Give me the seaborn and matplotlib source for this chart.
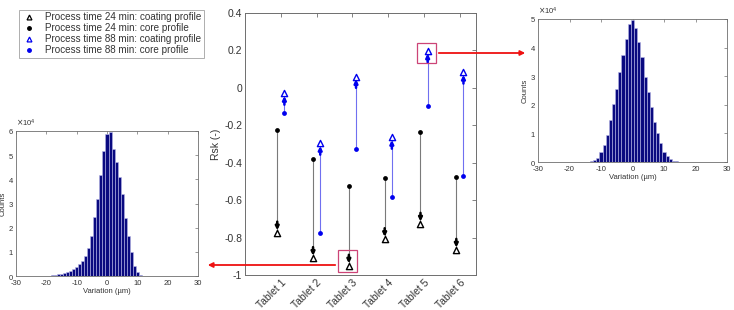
import numpy as np
import pandas as pd
import matplotlib
matplotlib.use("Agg")
import matplotlib.pyplot as plt
from matplotlib.lines import Line2D
from matplotlib.patches import Rectangle
from matplotlib.ticker import ScalarFormatter
import seaborn as sns

# ---------------- data ----------------
tablets = ["Tablet 1", "Tablet 2", "Tablet 3", "Tablet 4", "Tablet 5", "Tablet 6"]
core_24 = [-0.225, -0.38, -0.523, -0.484, -0.236, -0.478]
coat_24 = [-0.775, -0.911, -0.952, -0.81, -0.728, -0.867]
core_88 = [-0.136, -0.777, -0.329, -0.585, -0.097, -0.471]
coat_88 = [-0.03, -0.297, 0.06, -0.265, 0.197, 0.083]

# histogram of tablet 3 (24 min, coating) - bin centres (um) and counts
hist_left_x = list(range(-20, 12))
hist_left_counts = [100, 200, 300, 500, 700, 1000, 1300, 1700, 2200, 2800, 3600,
                    4800, 6200, 8300, 11400, 16600, 24400, 32000, 42000, 51600,
                    58600, 59500, 52700, 47000, 41000, 34000, 24100, 16700,
                    10000, 4000, 1500, 300]
# histogram of tablet 5 (88 min, coating)
hist_right_x = list(range(-13, 16))
hist_right_counts = [200, 700, 1500, 3400, 5900, 9400, 14700, 20200, 25500, 31300,
                     37400, 43000, 48100, 49800, 47000, 42000, 36800, 29800, 24600,
                     19300, 14100, 10000, 6500, 3600, 2000, 1000, 500, 200, 100]

# ---------------- style ----------------
sns.set_theme(style="white")
plt.rcParams["font.family"] = ["Liberation Sans", "DejaVu Sans"]
plt.rcParams["xtick.direction"] = "in"
plt.rcParams["ytick.direction"] = "in"
plt.rcParams["axes.unicode_minus"] = False

fig = plt.figure(figsize=(7.34, 3.10), dpi=100)
W, H = 734, 310


def ax_from_px(x0, y0, x1, y1):
    return fig.add_axes([x0 / W, 1 - y1 / H, (x1 - x0) / W, (y1 - y0) / H])


spine_col = "#6e6e6e"
txt_col = "#333333"

# ---------------- main axes ----------------
ax = ax_from_px(245, 13, 476, 275)
pos = np.arange(1, len(tablets) + 1)
off = 0.1

df24 = pd.DataFrame({"x": pos - off, "core": core_24, "coat": coat_24})
df88 = pd.DataFrame({"x": pos + off, "core": core_88, "coat": coat_88})

for df, lcol, acol in [(df24, "#7a7a7a", "black"), (df88, "#7070f0", "#0000ee")]:
    for _, r in df.iterrows():
        ax.plot([r.x, r.x], [r.core, r.coat], color=lcol, lw=0.8, zorder=1)
        d = np.sign(r.coat - r.core)
        ax.annotate("", xy=(r.x, r.coat - d * 0.014), xytext=(r.x, r.coat - d * 0.06),
                    arrowprops=dict(arrowstyle="-|>", color=acol, lw=1.8,
                                    mutation_scale=5, shrinkA=0, shrinkB=0),
                    zorder=3)

sns.scatterplot(data=df24, x="x", y="core", ax=ax, color="black", marker="o",
                s=12, edgecolor="black", linewidth=0, zorder=4, legend=False)
sns.scatterplot(data=df24, x="x", y="coat", ax=ax, marker="^", s=20,
                facecolor="white", edgecolor="black", linewidth=1.0, zorder=4, legend=False)
sns.scatterplot(data=df88, x="x", y="core", ax=ax, color="#0000ee", marker="o",
                s=12, edgecolor="#0000ee", linewidth=0, zorder=4, legend=False)
sns.scatterplot(data=df88, x="x", y="coat", ax=ax, marker="^", s=20,
                facecolor="white", edgecolor="#0000ee", linewidth=1.0, zorder=4, legend=False)

ax.set_xlim(0, 6.45)
ax.set_ylim(-1, 0.4)
ax.set_xticks(pos)
ax.set_xticklabels(tablets, rotation=45, ha="right", rotation_mode="anchor",
                   fontsize=7.5, color=txt_col)
ax.set_yticks(np.arange(-1, 0.41, 0.2))
ax.set_yticklabels(["-1", "-0.8", "-0.6", "-0.4", "-0.2", "0", "0.2", "0.4"],
                   fontsize=7.5, color=txt_col)
ax.set_xlabel("")
ax.set_ylabel("Rsk (-)", fontsize=7.5, color=txt_col, labelpad=2)
ax.tick_params(axis="both", which="both", length=3, width=0.6, color=spine_col,
               top=True, right=True, pad=2)
for s in ax.spines.values():
    s.set_color(spine_col)
    s.set_linewidth(0.7)

# red highlight boxes
ax.add_patch(Rectangle((4.80, 0.133), 0.54, 0.107, fill=False, edgecolor="#cc4477",
                       lw=0.9, zorder=5, clip_on=False))
ax.add_patch(Rectangle((2.61, -0.983), 0.51, 0.116, fill=False, edgecolor="#cc4477",
                       lw=0.9, zorder=5, clip_on=False))


# ---------------- histograms ----------------
def draw_hist(a, xs, counts, ymax):
    sns.histplot(x=xs, weights=counts, discrete=True, ax=a, color="#0a0a80",
                 edgecolor="#b8b8e8", linewidth=0.4, alpha=1.0)
    a.set_xlim(-30, 30)
    a.set_ylim(0, ymax * 10000)
    a.set_xticks(range(-30, 31, 10))
    a.set_yticks(np.arange(0, ymax + 1) * 10000)
    fmt = ScalarFormatter(useMathText=True)
    fmt.set_powerlimits((0, 0))
    a.yaxis.set_major_formatter(fmt)
    a.yaxis.get_offset_text().set_fontsize(5.5)
    a.tick_params(axis="both", labelsize=5.5, length=2, width=0.5, color=spine_col,
                  top=True, right=True, pad=1.5, labelcolor=txt_col)
    a.tick_params(axis="x", pad=3)
    a.set_xlabel("Variation (\u00b5m)", fontsize=5.5, color=txt_col, labelpad=0.5)
    a.set_ylabel("Counts", fontsize=5.5, color=txt_col, labelpad=1)
    for s in a.spines.values():
        s.set_color(spine_col)
        s.set_linewidth(0.6)


axl = ax_from_px(16, 131, 198, 276)
draw_hist(axl, hist_left_x, hist_left_counts, 6)
axr = ax_from_px(538, 19, 727, 162)
draw_hist(axr, hist_right_x, hist_right_counts, 5)

# ---------------- red arrows ----------------
fig.patches.append(matplotlib.patches.FancyArrowPatch(
    (436 / W, 1 - 53 / H), (528 / W, 1 - 53 / H), transform=fig.transFigure,
    arrowstyle="-|>", mutation_scale=7, color="#ee1111", lw=1.3))
fig.patches.append(matplotlib.patches.FancyArrowPatch(
    (338 / W, 1 - 265 / H), (205 / W, 1 - 265 / H), transform=fig.transFigure,
    arrowstyle="-|>", mutation_scale=7, color="#ee1111", lw=1.3))

# ---------------- legend ----------------
handles = [
    Line2D([], [], ls="none", marker="^", mfc="white", mec="black", ms=3.5, mew=0.9),
    Line2D([], [], ls="none", marker="o", mfc="black", mec="black", ms=2.5),
    Line2D([], [], ls="none", marker="^", mfc="white", mec="#0000ee", ms=3.5, mew=0.9),
    Line2D([], [], ls="none", marker="o", mfc="#0000ee", mec="#0000ee", ms=2.5),
]
labels = ["Process time 24 min: coating profile", "Process time 24 min: core profile",
          "Process time 88 min: coating profile", "Process time 88 min: core profile"]
leg = fig.legend(handles, labels, loc="upper left", bbox_to_anchor=(19 / W, 1 - 10 / H),
                 fontsize=7.1, frameon=True, fancybox=False, borderpad=0.25,
                 labelspacing=0.1, handletextpad=0.9, handlelength=1.5,
                 borderaxespad=0)
leg.get_frame().set_edgecolor("#999999")
leg.get_frame().set_linewidth(0.7)
for t in leg.get_texts():
    t.set_color(txt_col)

fig.savefig("out.png", dpi=100)
